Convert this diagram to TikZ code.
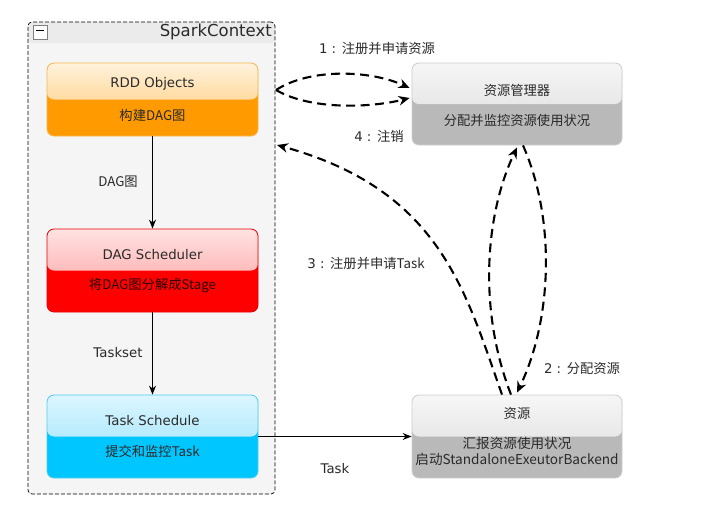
\documentclass[tikz,border=0pt]{standalone}
\usepackage{fontspec}
\setmainfont{DejaVu Sans}
\newfontfamily\cjk{Noto Sans CJK SC}
\usetikzlibrary{arrows.meta,calc}
\definecolor{rddTa}{HTML}{FFF2DC}
\definecolor{rddTb}{HTML}{FFC466}
\definecolor{rddB}{HTML}{FF9A00}
\definecolor{rddD}{HTML}{F5B850}
\definecolor{dagTa}{HTML}{FFE2E2}
\definecolor{dagTb}{HTML}{FF9696}
\definecolor{dagB}{HTML}{FF0000}
\definecolor{dagD}{HTML}{E80000}
\definecolor{tskTa}{HTML}{DCF6FF}
\definecolor{tskTb}{HTML}{8FDFFA}
\definecolor{tskB}{HTML}{00C6FF}
\definecolor{tskD}{HTML}{50CDF2}
\definecolor{gryTa}{HTML}{F6F6F6}
\definecolor{gryTb}{HTML}{DADADA}
\definecolor{gryB}{HTML}{B9B9B9}
\definecolor{gryD}{HTML}{CDCDCD}
\definecolor{scbg}{HTML}{F5F5F5}
\definecolor{scbar}{HTML}{EBEBEB}
\definecolor{txt}{HTML}{2A2A2A}
\tikzset{
  box/.style={rectangle, rounded corners=7pt, minimum width=211pt, inner sep=0pt, line width=0.8pt},
  tophalf/.style 2 args={path picture={\shade[top color=#1, bottom color=#2]
      (path picture bounding box.north west) rectangle (path picture bounding box.east);}},
  lbl/.style={font=\fontsize{13.3}{15}\selectfont, text=txt, inner sep=1pt},
  dasharrow/.style={line width=2.1pt, dash pattern=on 9pt off 5.5pt, -{Stealth[length=11pt,width=9.5pt]}},
  solidarrow/.style={line width=1pt, -{Stealth[length=9pt,width=7pt]}},
}
\begin{document}
\begin{tikzpicture}[x=1pt,y=-1pt]
\useasboundingbox[fill=white] (0,0) rectangle (706,507);
% container
\node[draw, dashed, dash pattern=on 4pt off 2pt, line width=0.7pt, rounded corners=4pt, fill=scbg,
      minimum width=247pt, minimum height=472pt, inner sep=0pt,
      path picture={\fill[scbar] (path picture bounding box.north west) rectangle ([yshift=-21pt]path picture bounding box.north east);}]
      (sc) at (151.5,258) {};
\node[draw=gray, fill=white, minimum size=14pt, inner sep=0pt, line width=0.6pt] (minus) at (40,32) {\rule[2.5pt]{8pt}{1.4pt}};
\node[anchor=east, font=\fontsize{16.5}{18}\selectfont, text=txt, inner sep=0pt] (sctitle) at (272,32) {SparkContext};
% left boxes
\node[box, minimum height=73pt, fill=rddB, draw=rddD, tophalf={rddTa}{rddTb}] (rdd) at (152.5,99.5) {};
\node[lbl] (rddt) at ($(rdd.center)+(0,-16)$) {RDD Objects};
\node[lbl] (rddb) at ($(rdd.center)+(0,16)$) {\cjk 构建DAG图};
\node[box, minimum height=83pt, fill=dagB, draw=dagD, tophalf={dagTa}{dagTb}] (dag) at (152.5,270.5) {};
\node[lbl] (dagt) at ($(dag.center)+(0,-16)$) {DAG Scheduler};
\node[lbl, text=black!85!red] (dagb) at ($(dag.center)+(0,15)$) {\cjk 将DAG图分解成Stage};
\node[box, minimum height=83pt, fill=tskB, draw=tskD, tophalf={tskTa}{tskTb}] (task) at (152.5,436.5) {};
\node[lbl] (taskt) at ($(task.center)+(0,-16)$) {Task Schedule};
\node[lbl] (taskb) at ($(task.center)+(0,15)$) {\cjk 提交和监控Task};
% right boxes
\node[box, minimum width=210pt, minimum height=82pt, fill=gryB, draw=gryD, tophalf={gryTa}{gryTb}] (rm) at (517,104) {};
\node[lbl] (rmt) at ($(rm.center)+(0,-14)$) {\cjk 资源管理器};
\node[lbl] (rmb) at ($(rm.center)+(0,16)$) {\cjk 分配并监控资源使用状况};
\node[box, minimum width=210pt, minimum height=83pt, fill=gryB, draw=gryD, tophalf={gryTa}{gryTb}] (res) at (517,436.5) {};
\node[lbl] (rest) at ($(res.center)+(0,-23)$) {\cjk 资源};
\node[lbl, align=center, font=\fontsize{13.6}{16}\selectfont] (resb) at ($(res.center)+(0,14.5)$) {\cjk 汇报资源使用状况\\\cjk 启动StandaloneExeutorBackend};
% solid arrows
\draw[solidarrow] (rdd.south) -- (dag.north);
\draw[solidarrow] (dag.south) -- (task.north);
\draw[solidarrow] (task.east) -- (res.west);
\node[lbl] (l1) at (118,182) {\cjk DAG图};
\node[lbl] (l2) at (118,353) {Taskset};
\node[lbl] (l3) at (335,469) {Task};
% dashed arrows
\coordinate (s1) at (276,90);
\draw[dasharrow] (s1) .. controls (310,68) and (370,70) .. ([xshift=-2pt,yshift=16pt]rm.west);
\draw[dasharrow] (s1) .. controls (310,110) and (370,108) .. ([xshift=-2pt,yshift=6pt]rm.west);
\coordinate (e3) at (277,145);
\draw[dasharrow] ([xshift=-15pt]res.north) .. controls (465,290) and (440,190) .. (e3);
\draw[dasharrow] ([xshift=-6pt]res.north) .. controls (478,310) and (485,215) .. ([yshift=-2pt]rm.south);
\draw[dasharrow] ([xshift=6pt]rm.south) .. controls (556,220) and (552,320) .. ([yshift=2pt]res.north);
\node[lbl] (a1) at (377,48) {1 : \cjk 注册并申请资源};
\node[lbl] (a4) at (379,136) {4 : \cjk 注销};
\node[lbl] (a3) at (366,263) {3 : \cjk 注册并申请Task};
\node[lbl] (a2) at (582,368) {2 : \cjk 分配资源};
\end{tikzpicture}
\end{document}
